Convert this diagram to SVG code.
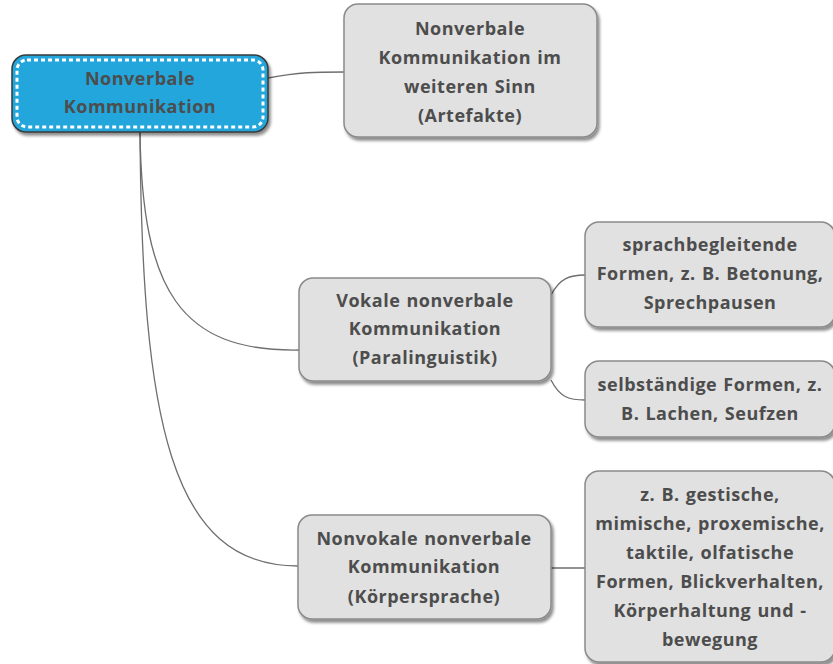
<svg xmlns="http://www.w3.org/2000/svg" width="833" height="664" viewBox="0 0 833 664">
  <defs>
    <filter id="shadow" x="-10%" y="-10%" width="125%" height="130%">
      <feDropShadow dx="2" dy="3" stdDeviation="1.5" flood-color="#000" flood-opacity="0.45"/>
    </filter>
  </defs>
  <style>
    .box { fill: #e1e1e1; stroke: #8a8a8a; stroke-width: 1.5; filter: url(#shadow); }
    .root { fill: #22a6dc; stroke: #3a3a3a; stroke-width: 1.5; filter: url(#shadow); }
    .root-dash { fill: none; stroke: #ffffff; stroke-width: 3; stroke-dasharray: 4 3; }
    .label { font-family: "Open Sans", "Noto Sans", sans-serif; font-weight: bold; font-size: 18px; letter-spacing: 0.5px; word-spacing: 1px; fill: #4d4d4d; text-anchor: middle; dominant-baseline: central; }
    .link { fill: none; stroke: #6e6e6e; stroke-width: 1.3; }
  </style>
  <rect width="833" height="664" fill="#ffffff"/>

  <g id="connectors">
    <path class="link" d="M268,78 C300,72 315,72 344,72"/>
    <path class="link" d="M140,132 C142,290 180,352 299,350"/>
    <path class="link" d="M140,132 C142,420 170,566 298,566"/>
    <path class="link" d="M551,295 C560,278 570,275 585,275"/>
    <path class="link" d="M551,380 C560,398 570,400 585,400"/>
    <path class="link" d="M551,568 L585,568"/>
  </g>

  <g id="root">
    <rect class="root" x="12" y="55" width="256" height="77" rx="14"/>
    <rect class="root-dash" x="17" y="60" width="246" height="67" rx="10"/>
    <text class="label" x="140" y="78">Nonverbale</text>
    <text class="label" x="140" y="106">Kommunikation</text>
  </g>

  <g id="node-artefakte">
    <rect class="box" x="344" y="4" width="253" height="133" rx="14"/>
    <text class="label" x="470" y="28">Nonverbale</text>
    <text class="label" x="470" y="57">Kommunikation im</text>
    <text class="label" x="470" y="86">weiteren Sinn</text>
    <text class="label" x="470" y="115">(Artefakte)</text>
  </g>

  <g id="node-vokal">
    <rect class="box" x="299" y="278" width="252" height="103" rx="14"/>
    <text class="label" x="425" y="300">Vokale nonverbale</text>
    <text class="label" x="425" y="328">Kommunikation</text>
    <text class="label" x="425" y="357">(Paralinguistik)</text>
  </g>

  <g id="node-sprachbegleitend">
    <rect class="box" x="585" y="222" width="250" height="105" rx="14"/>
    <text class="label" x="710" y="244">sprachbegleitende</text>
    <text class="label" x="710" y="273">Formen, z. B. Betonung,</text>
    <text class="label" x="710" y="302">Sprechpausen</text>
  </g>

  <g id="node-selbstaendig">
    <rect class="box" x="585" y="361" width="250" height="76" rx="14"/>
    <text class="label" x="710" y="384">selbständige Formen, z.</text>
    <text class="label" x="710" y="413">B. Lachen, Seufzen</text>
  </g>

  <g id="node-nonvokal">
    <rect class="box" x="298" y="515" width="253" height="104" rx="14"/>
    <text class="label" x="424" y="538">Nonvokale nonverbale</text>
    <text class="label" x="424" y="566">Kommunikation</text>
    <text class="label" x="424" y="596">(Körpersprache)</text>
  </g>

  <g id="node-koerper">
    <rect class="box" x="585" y="471" width="250" height="191" rx="14"/>
    <text class="label" x="710" y="494">z. B. gestische,</text>
    <text class="label" x="710" y="523">mimische, proxemische,</text>
    <text class="label" x="710" y="552">taktile, olfatische</text>
    <text class="label" x="710" y="581">Formen, Blickverhalten,</text>
    <text class="label" x="710" y="610">Körperhaltung und -</text>
    <text class="label" x="710" y="639">bewegung</text>
  </g>
</svg>
